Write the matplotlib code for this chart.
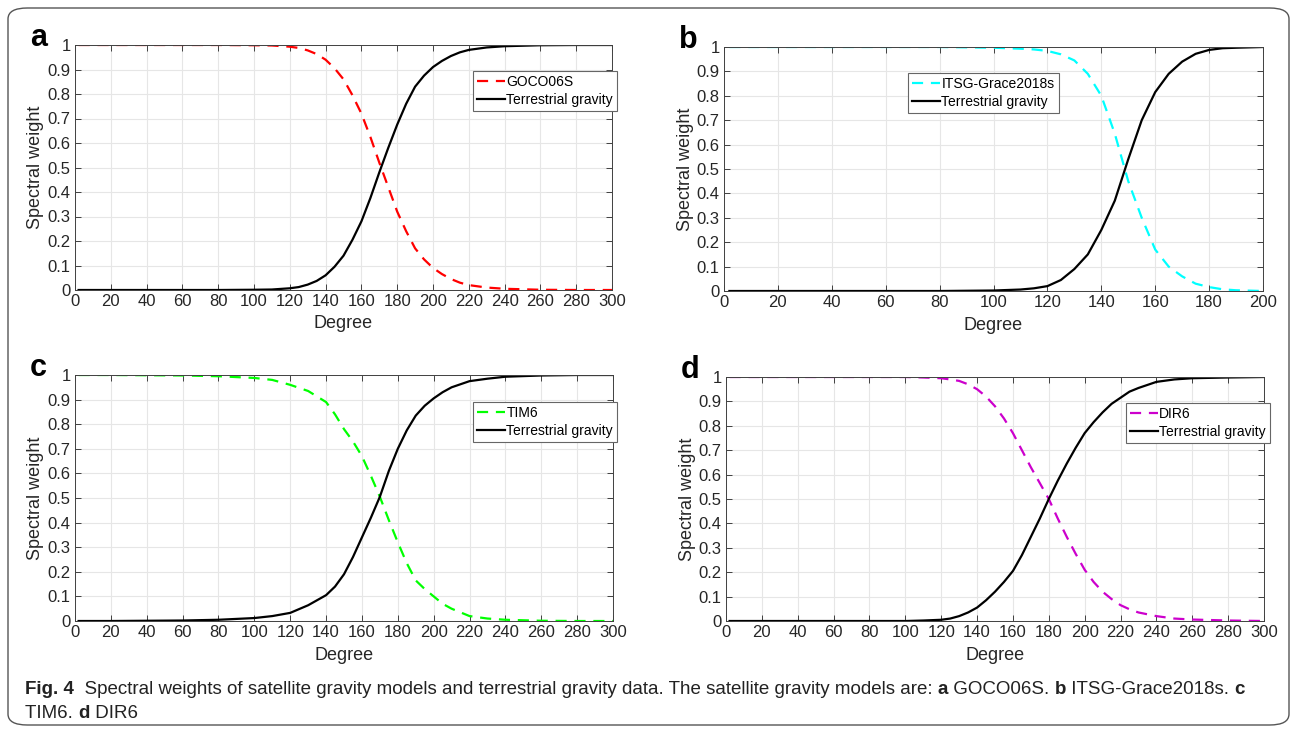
import matplotlib
matplotlib.use("Agg")
import matplotlib.pyplot as plt
from matplotlib import font_manager
from matplotlib.patches import FancyBboxPatch

# pick a narrow sans if it is there
names = {f.name for f in font_manager.fontManager.ttflist}
narrow = "Liberation Sans Narrow" if "Liberation Sans Narrow" in names else "Liberation Sans"

# --- data ---
deg_a = [2, 20, 40, 60, 80, 100, 110, 120, 125, 130, 135, 140, 145, 150, 155, 160, 165, 170,
         175, 180, 185, 190, 195, 200, 205, 210, 215, 220, 230, 240, 260, 280, 300]
goco = [1, 1, 1, 1, 1, 0.999, 0.998, 0.993, 0.988, 0.978, 0.963, 0.94, 0.905, 0.86, 0.795,
        0.72, 0.625, 0.52, 0.42, 0.32, 0.24, 0.17, 0.125, 0.09, 0.065, 0.045, 0.03, 0.02,
        0.01, 0.005, 0.001, 0, 0]
terr_a = [0, 0, 0, 0, 0, 0.001, 0.002, 0.007, 0.012, 0.022, 0.037, 0.06, 0.095, 0.14, 0.205,
          0.28, 0.375, 0.48, 0.58, 0.675, 0.76, 0.83, 0.875, 0.91, 0.935, 0.955, 0.97, 0.98,
          0.99, 0.995, 0.999, 1, 1]

deg_b = [2, 20, 40, 60, 80, 100, 110, 115, 120, 125, 130, 135, 140, 145, 150, 155, 160,
         165, 170, 175, 180, 185, 190, 200]
itsg = [1, 1, 1, 1, 1, 0.997, 0.993, 0.99, 0.984, 0.97, 0.945, 0.89, 0.80, 0.645, 0.45,
        0.30, 0.17, 0.10, 0.06, 0.03, 0.016, 0.007, 0.003, 0]
terr_b = [0, 0, 0, 0, 0, 0.002, 0.006, 0.011, 0.02, 0.045, 0.09, 0.15, 0.25, 0.37, 0.54,
          0.70, 0.815, 0.89, 0.94, 0.972, 0.988, 0.995, 0.997, 1]

deg_c = [2, 20, 40, 60, 80, 100, 110, 120, 130, 140, 145, 150, 155, 160, 165, 170, 175,
         180, 185, 190, 195, 200, 205, 210, 220, 230, 240, 260, 280, 300]
tim6 = [1, 1, 0.999, 0.998, 0.995, 0.988, 0.98, 0.96, 0.935, 0.89, 0.84, 0.78, 0.73, 0.67,
        0.59, 0.505, 0.41, 0.32, 0.235, 0.165, 0.13, 0.10, 0.07, 0.05, 0.02, 0.01, 0.005,
        0.001, 0, 0]
terr_c = [0, 0, 0.001, 0.002, 0.005, 0.012, 0.02, 0.033, 0.064, 0.105, 0.14, 0.19, 0.26,
          0.34, 0.42, 0.505, 0.61, 0.70, 0.775, 0.835, 0.875, 0.905, 0.93, 0.95, 0.975, 0.985,
          0.993, 0.998, 1, 1]

deg_d = [2, 20, 40, 60, 80, 100, 110, 120, 125, 130, 135, 140, 145, 150, 155, 160, 165, 170,
         175, 180, 185, 190, 195, 200, 205, 210, 215, 220, 225, 230, 240, 250, 260, 280, 300]
dir6 = [1, 1, 1, 1, 1, 1, 0.998, 0.995, 0.99, 0.984, 0.97, 0.95, 0.92, 0.88, 0.83, 0.77,
        0.70, 0.63, 0.565, 0.5, 0.42, 0.345, 0.275, 0.21, 0.16, 0.12, 0.09, 0.065, 0.048,
        0.035, 0.02, 0.01, 0.006, 0.002, 0]
terr_d = [0, 0, 0, 0, 0, 0, 0.002, 0.005, 0.01, 0.02, 0.035, 0.055, 0.085, 0.12, 0.16, 0.205,
          0.27, 0.345, 0.42, 0.5, 0.575, 0.645, 0.71, 0.77, 0.815, 0.855, 0.89, 0.915, 0.94,
          0.955, 0.98, 0.99, 0.995, 0.998, 1]

panels = [
    ("a", deg_a, goco, terr_a, "GOCO06S", "#ff0000", 300),
    ("b", deg_b, itsg, terr_b, "ITSG-Grace2018s", "#00ffff", 200),
    ("c", deg_c, tim6, terr_c, "TIM6", "#00ff00", 300),
    ("d", deg_d, dir6, terr_d, "DIR6", "#cc00cc", 300),
]

W, H = 1295, 730
fig = plt.figure(figsize=(W / 100, H / 100), dpi=100)

# axes boxes in pixels: left, top, right, bottom
ax_px = [(75, 45, 612, 290), (724, 47, 1263, 291), (75, 375, 613, 621), (726, 377, 1264, 621)]
leg_px = [(473, 71), (908, 73), (473, 402), (1126, 403)]

for (lab, x, sat, terr, name, col, xmax), (l, t, r, b), (lx, ly) in zip(panels, ax_px, leg_px):
    ax = fig.add_axes([l / W, 1 - b / H, (r - l) / W, (b - t) / H])
    ax.plot(x, sat, "--", color=col, lw=1.6, dashes=(5, 3.5), label=name)
    ax.plot(x, terr, "-", color="black", lw=1.6, label="Terrestrial gravity")
    ax.set_xlim(0, xmax)
    ax.set_ylim(0, 1)
    ax.set_xticks(range(0, xmax + 1, 20))
    ax.set_yticks([i / 10 for i in range(11)])
    ax.set_yticklabels(["0", "0.1", "0.2", "0.3", "0.4", "0.5", "0.6", "0.7", "0.8", "0.9", "1"])
    ax.grid(True, color="#e6e6e6", lw=0.8)
    ax.set_axisbelow(True)
    ax.tick_params(direction="in", top=True, right=True, length=4, width=0.7,
                   color="#404040", labelsize=12, pad=3)
    for lbl in ax.get_xticklabels() + ax.get_yticklabels():
        lbl.set_family(narrow)
        lbl.set_color("#262626")
    for s in ax.spines.values():
        s.set_color("#404040")
        s.set_linewidth(0.7)
    ax.set_xlabel("Degree", family=narrow, fontsize=13, color="#262626")
    ax.set_ylabel("Spectral weight", family=narrow, fontsize=13, color="#262626")
    ax.xaxis.set_label_coords(0.5, -34 / (b - t))
    ax.yaxis.set_label_coords(-39 / (r - l), 0.5)
    ax.yaxis.label.set_va("center")
    ax.xaxis.label.set_va("center")
    leg = ax.legend(loc="upper left", bbox_to_anchor=(lx / W, 1 - ly / H),
                    bbox_transform=fig.transFigure, fancybox=False, framealpha=1,
                    edgecolor="#666666", prop={"family": narrow, "size": 10},
                    handlelength=2.0, handletextpad=0.1, borderpad=0.3, labelspacing=0.25,
                    borderaxespad=0)
    leg.get_frame().set_linewidth(0.8)
    fig.text((l - 45) / W, 1 - (t - 7) / H, lab, fontsize=22, fontweight="bold",
             family="Liberation Sans", ha="left", va="center")

# rounded frame round the whole figure
frame = FancyBboxPatch((8 / W, 5 / H), (W - 14) / W, (H - 13) / H,
                       boxstyle="round,pad=0,rounding_size=0.015", transform=fig.transFigure,
                       fill=False, edgecolor="#555555", lw=1.0)
fig.patches.append(frame)

# caption with bold pieces
renderer = fig.canvas.get_renderer()


def rich_line(x, y, parts, size=13.5):
    for txt, bold in parts:
        t = fig.text(x / W, 1 - y / H, txt, fontsize=size, family=narrow,
                     fontweight="bold" if bold else "normal", va="center", ha="left",
                     color="#222222")
        x += t.get_window_extent(renderer).width


rich_line(25, 689, [("Fig. 4", True),
                    ("  Spectral weights of satellite gravity models and terrestrial gravity data. "
                     "The satellite gravity models are: ", False),
                    ("a", True), (" GOCO06S. ", False), ("b", True),
                    (" ITSG-Grace2018s. ", False), ("c", True)])
rich_line(25, 713, [("TIM6. ", False), ("d", True), (" DIR6", False)])

fig.savefig("out.png", dpi=100)
